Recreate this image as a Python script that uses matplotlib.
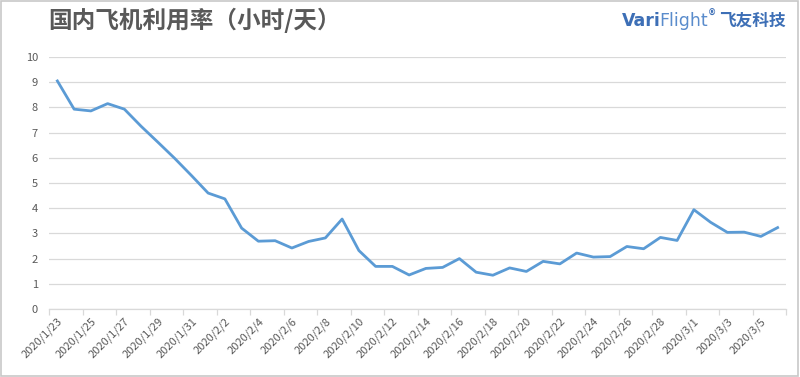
import matplotlib
matplotlib.use('Agg')
import matplotlib.pyplot as plt
from matplotlib.patches import Rectangle

plt.rcParams['font.family'] = ['Noto Sans CJK SC', 'DejaVu Sans']

# ===== data =====
dates = ['2020/1/23', '2020/1/24', '2020/1/25', '2020/1/26', '2020/1/27', '2020/1/28',
         '2020/1/29', '2020/1/30', '2020/1/31', '2020/2/1', '2020/2/2', '2020/2/3',
         '2020/2/4', '2020/2/5', '2020/2/6', '2020/2/7', '2020/2/8', '2020/2/9',
         '2020/2/10', '2020/2/11', '2020/2/12', '2020/2/13', '2020/2/14', '2020/2/15',
         '2020/2/16', '2020/2/17', '2020/2/18', '2020/2/19', '2020/2/20', '2020/2/21',
         '2020/2/22', '2020/2/23', '2020/2/24', '2020/2/25', '2020/2/26', '2020/2/27',
         '2020/2/28', '2020/2/29', '2020/3/1', '2020/3/2', '2020/3/3', '2020/3/4',
         '2020/3/5', '2020/3/6']
hours = [9.05, 7.93, 7.86, 8.15, 7.93, 7.25, 6.62, 5.98, 5.3, 4.6,
         4.37, 3.21, 2.69, 2.71, 2.42, 2.68, 2.82, 3.57, 2.32, 1.69,
         1.69, 1.35, 1.61, 1.65, 2.0, 1.46, 1.34, 1.63, 1.49, 1.89,
         1.79, 2.22, 2.06, 2.08, 2.48, 2.39, 2.84, 2.72, 3.94, 3.44,
         3.04, 3.05, 2.88, 3.23]

grey_txt = '#595959'
grid_c = '#d9d9d9'
line_c = '#5b9bd5'

fig = plt.figure(figsize=(8, 3.77), dpi=100)
fig.patches.append(Rectangle((0.001, 0.003), 0.996, 0.994, transform=fig.transFigure,
                             fill=False, edgecolor='#c8c8c8', linewidth=1.2))

ax = fig.add_axes([0.06125, 0.1804, 0.92125, 0.6684])
x = list(range(len(hours)))
ax.plot(x, hours, color=line_c, linewidth=2.0, solid_joinstyle='round', zorder=3)

ax.set_ylim(0, 10)
ax.set_xlim(-0.5, len(hours) - 0.5)
ax.set_yticks(range(0, 11))
ax.yaxis.grid(True, color=grid_c, linewidth=0.9)
ax.tick_params(axis='y', length=0, labelsize=8, labelcolor=grey_txt, pad=8)

# ticks between categories, labels at every second category
ax.set_xticks([i - 0.5 for i in range(0, len(hours) + 1, 2)])
ax.set_xticklabels([])
ax.tick_params(axis='x', which='major', length=4, color=grid_c, width=0.9)
ax.set_xticks(list(range(0, len(hours), 2)), minor=True)
ax.set_xticklabels(dates[::2], minor=True, rotation=45, ha='right',
                   rotation_mode='anchor', fontsize=8, color=grey_txt)
ax.tick_params(axis='x', which='minor', length=0, pad=5)

for s in ['top', 'right', 'left']:
    ax.spines[s].set_visible(False)
ax.spines['bottom'].set_color(grid_c)
ax.spines['bottom'].set_linewidth(0.9)
ax.set_axisbelow(True)

# title
fig.text(48 / 800, 0.945, '国内飞机利用率（小时/天）', fontsize=17, fontweight='bold',
         color=grey_txt, va='center', ha='left')

# logo, pieces laid out one after another
logo_c = '#3d6fb6'
fig.canvas.draw()
r = fig.canvas.get_renderer()
pieces = [('Vari', 12.5, 'bold', logo_c, ['DejaVu Sans'], 0.945, -2),
          ('Flight', 12.5, 'normal', '#5a8ccc', ['DejaVu Sans'], 0.945, 0),
          ('®', 6, 'bold', logo_c, ['DejaVu Sans'], 0.965, 3),
          ('飞友科技', 12, 'bold', logo_c, ['Noto Sans CJK SC'], 0.945, 0)]
xpos = 622
for txt, fs, fw, col, fam, yy, gap in pieces:
    t = fig.text(xpos / 800, yy, txt, fontsize=fs, fontweight=fw, color=col,
                 va='center', ha='left', family=fam)
    bb = t.get_window_extent(renderer=r)
    xpos = bb.x1 + gap

fig.savefig('out.png', dpi=100)
